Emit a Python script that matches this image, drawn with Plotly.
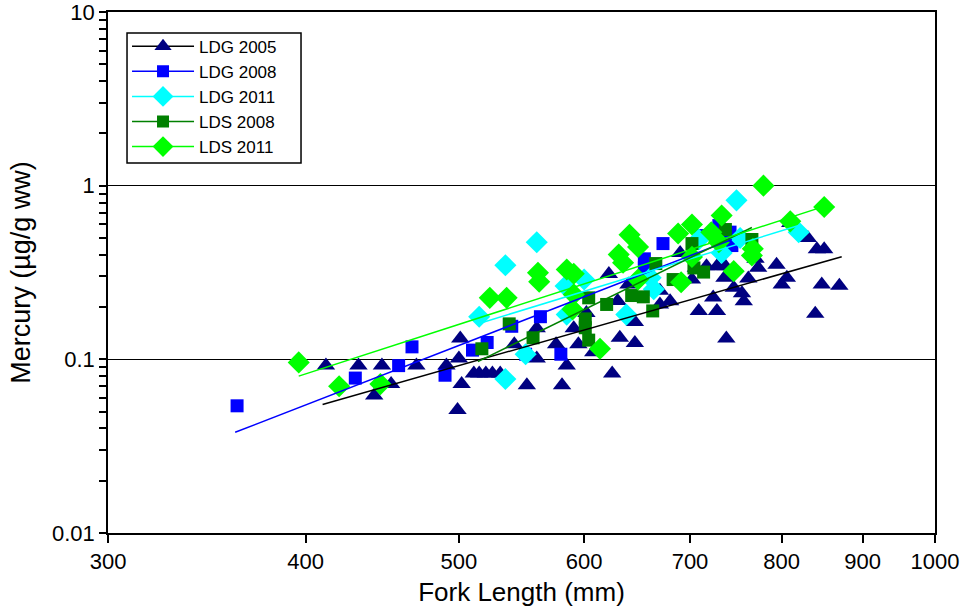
import plotly.graph_objects as go

# ---------------- data ----------------
ldg2005_x = [412, 432, 447, 453, 442, 470, 491, 501, 500, 502, 499,
             511, 515, 520, 525, 531, 552, 560, 542, 560, 576, 585, 581,
             591, 595, 602, 608, 622, 625, 632, 640, 646, 646, 670, 680,
             670, 690, 706, 717, 728, 737, 736, 746, 755, 757, 762, 773,
             794, 806, 800, 709, 728, 738, 702, 831, 842, 851, 770, 870,
             848, 840, 810, 630, 724]
ldg2005_y = [0.092, 0.092, 0.092, 0.072, 0.062, 0.092, 0.092, 0.132, 0.101, 0.072, 0.051,
             0.083, 0.083, 0.083, 0.083, 0.083, 0.071, 0.151, 0.122, 0.101, 0.122, 0.092, 0.071,
             0.151, 0.122, 0.185, 0.11, 0.31, 0.083, 0.133, 0.27, 0.164, 0.124, 0.207, 0.216,
             0.248, 0.41, 0.337, 0.344, 0.344, 0.344, 0.295, 0.258, 0.24, 0.216, 0.292, 0.337,
             0.35, 0.295, 0.27, 0.19, 0.19, 0.132, 0.288, 0.50, 0.43, 0.43, 0.38, 0.265,
             0.27, 0.183, 0.61, 0.217, 0.227]

ldg2008_x = [362, 458, 467, 430, 490, 510, 521, 540, 563, 580, 551,
             673, 655, 655, 711, 730, 742, 744]
ldg2008_y = [0.054, 0.092, 0.118, 0.078, 0.081, 0.113, 0.125, 0.155, 0.176, 0.107, 0.107,
             0.464, 0.379, 0.337, 0.516, 0.589, 0.54, 0.452]

ldg2011_x = [560, 535, 515, 584, 600, 585, 551, 535, 638, 749, 709, 733, 753,
             661, 664, 820]
ldg2011_y = [0.472, 0.348, 0.176, 0.264, 0.288, 0.181, 0.107, 0.077, 0.181, 0.823, 0.49, 0.41, 0.50,
             0.295, 0.253, 0.539]

lds2008_x = [517, 538, 557, 604, 620, 601, 601, 604, 737, 766, 702, 666, 704, 714,
             683, 643, 654, 663]
lds2008_y = [0.115, 0.160, 0.133, 0.226, 0.207, 0.171, 0.152, 0.129, 0.559, 0.49, 0.464, 0.356, 0.336, 0.318,
             0.288, 0.233, 0.229, 0.19]

lds2011_x = [396, 420, 446, 523, 536, 561, 562, 585, 591, 591, 590, 614, 631, 635, 641,
             779, 733, 702, 688, 649, 722, 730, 702, 767, 766, 746, 691, 649, 810, 851]
lds2011_y = [0.096, 0.070, 0.072, 0.226, 0.226, 0.315, 0.28, 0.329, 0.311, 0.236, 0.194, 0.115, 0.401, 0.36, 0.522,
             1.0, 0.673, 0.597, 0.53, 0.444, 0.539, 0.472, 0.389, 0.433, 0.396, 0.322, 0.278, 0.288, 0.623, 0.754]

# regression lines (end points)
fit_ldg2005_x, fit_ldg2005_y = [410, 873], [0.055, 0.39]
fit_ldg2008_x, fit_ldg2008_y = [361, 744], [0.038, 0.49]
fit_ldg2011_x, fit_ldg2011_y = [515, 820], [0.161, 0.589]
fit_lds2008_x, fit_lds2008_y = [514, 766], [0.097, 0.574]
fit_lds2011_x, fit_lds2011_y = [396, 851], [0.080, 0.76]

x_ticks = [300, 400, 500, 600, 700, 800, 900, 1000]
y_ticks = [0.01, 0.1, 1, 10]
y_tick_text = ["0.01", "0.1", "1", "10"]

series = [
    ("LDG 2005", ldg2005_x, ldg2005_y, fit_ldg2005_x, fit_ldg2005_y, "triangle-up", "#000080", "#000000", 16),
    ("LDG 2008", ldg2008_x, ldg2008_y, fit_ldg2008_x, fit_ldg2008_y, "square", "#0000FF", "#0000FF", 13),
    ("LDG 2011", ldg2011_x, ldg2011_y, fit_ldg2011_x, fit_ldg2011_y, "diamond", "#00FFFF", "#00FFFF", 17),
    ("LDS 2008", lds2008_x, lds2008_y, fit_lds2008_x, fit_lds2008_y, "square", "#008000", "#008000", 13),
    ("LDS 2011", lds2011_x, lds2011_y, fit_lds2011_x, fit_lds2011_y, "diamond", "#00FF00", "#00FF00", 17),
]

fig = go.Figure()
# markers
for name, xs, ys, fx, fy, sym, mc, lc, sz in series:
    fig.add_trace(go.Scatter(x=xs, y=ys, mode="markers", name=name, legendgroup=name,
                             showlegend=False,
                             marker=dict(symbol=sym, size=sz, color=mc, line=dict(width=0))))
# fit lines
for name, xs, ys, fx, fy, sym, mc, lc, sz in series:
    fig.add_trace(go.Scatter(x=fx, y=fy, mode="lines", legendgroup=name, showlegend=False,
                             line=dict(color=lc, width=1.5)))
# legend entries
for name, xs, ys, fx, fy, sym, mc, lc, sz in series:
    fig.add_trace(go.Scatter(x=[None], y=[None], mode="lines+markers",
                             name=name, legendgroup=name,
                             line=dict(color=lc, width=1.5),
                             marker=dict(symbol=sym, size=sz - 1, color=mc)))

minor_y = [m * 10 ** e for e in (-2, -1, 0) for m in range(2, 10)]

fig.update_layout(
    width=962, height=609,
    margin=dict(l=108, r=27, t=12, b=76),
    paper_bgcolor="white", plot_bgcolor="white",
    font=dict(family="Liberation Sans, Arial, sans-serif", color="black", size=22),
    showlegend=True,
    legend=dict(x=0.023, y=0.968, xanchor="left", yanchor="top",
                bgcolor="rgba(0,0,0,0)", borderwidth=0,
                font=dict(size=17), itemwidth=62, tracegroupgap=0),
    # legend frame
    shapes=[dict(type="rect", xref="paper", yref="paper", layer="below",
                 x0=0.023, x1=0.2334, y0=0.710, y1=0.9597,
                 line=dict(color="black", width=1.5), fillcolor="white")],
    xaxis=dict(type="log", range=[2.4771, 3.0], tickvals=x_ticks,
               ticktext=[str(v) for v in x_ticks], automargin=False,
               ticklabeloverflow="allow",
               ticks="outside", ticklen=8, tickcolor="black", tickwidth=1.5,
               showline=True, linecolor="black", linewidth=1.5, mirror=True,
               showgrid=False, zeroline=False,
               tickfont=dict(size=22),
               title=dict(text="Fork Length (mm)", font=dict(size=26), standoff=10)),
    yaxis=dict(type="log", range=[-2, 1], tickvals=y_ticks, ticktext=y_tick_text,
               automargin=False, ticklabeloverflow="allow",
               ticks="outside", ticklen=7, tickcolor="black", tickwidth=1.5,
               showline=True, linecolor="black", linewidth=1.5, mirror=True,
               showgrid=True, gridcolor="black", gridwidth=1.2, zeroline=False,
               minor=dict(tickvals=minor_y, ticks="outside", ticklen=7, tickcolor="black",
                          tickwidth=1.5, showgrid=False),
               tickfont=dict(size=22),
               title=dict(text="Mercury (µg/g ww)", font=dict(size=27), standoff=14)),
)

# remove the default 8px page margin so the figure fills the window exactly
fig.write_html("out.html", config={"displayModeBar": False},
               post_script="document.body.style.margin='0px';")
